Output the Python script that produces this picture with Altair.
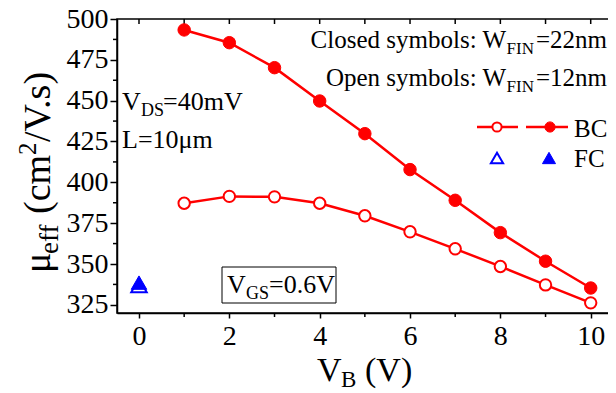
import altair as alt
import pandas as pd

# ---- data ----
vb = [1, 2, 3, 4, 5, 6, 7, 8, 9, 10]
mu_bc_22nm = [493.3, 485.5, 470.2, 449.8, 429.8, 407.8, 389.0, 369.2, 351.7, 335.3]
mu_bc_12nm = [387.2, 391.4, 391.1, 387.2, 379.5, 369.7, 359.3, 348.5, 337.2, 326.2]
fc_vb = [0]
mu_fc_22nm = [338.6]
mu_fc_12nm = [336.8]

x_major = [0, 2, 4, 6, 8, 10]
x_minor = [1, 3, 5, 7, 9]
y_major = [325, 350, 375, 400, 425, 450, 475, 500]
y_minor = [337.5, 362.5, 387.5, 412.5, 437.5, 462.5, 487.5]

XDOM = [-0.487, 10.582]
YDOM = [320, 500]
FONT = "Liberation Serif"
RED = "#ff0000"
BLUE = "#0000ff"
W, H = 500, 294

xs = alt.Scale(domain=XDOM, nice=False, zero=False)
ys = alt.Scale(domain=YDOM, nice=False, zero=False)

bc22 = pd.DataFrame({"vb": vb, "mu": mu_bc_22nm})
bc12 = pd.DataFrame({"vb": vb, "mu": mu_bc_12nm})
fc22 = pd.DataFrame({"vb": fc_vb, "mu": mu_fc_22nm})
fc12 = pd.DataFrame({"vb": fc_vb, "mu": mu_fc_12nm})
one = pd.DataFrame({"a": [0]})

X = lambda: alt.X("vb:Q", scale=xs, axis=None)
Y = lambda: alt.Y("mu:Q", scale=ys, axis=None)

# main axes (labels + outward major ticks)
axes = alt.Chart(bc22).mark_point(opacity=0).encode(
    x=alt.X("vb:Q", scale=xs, axis=alt.Axis(
        values=x_major, orient="bottom", title=None, tickSize=5, tickWidth=1.5,
        tickColor="black", domainColor="black", domainWidth=1.5,
        labelFont=FONT, labelFontSize=28, labelColor="black", labelPadding=4,
        grid=False, labelFlush=False)),
    y=alt.Y("mu:Q", scale=ys, axis=alt.Axis(
        values=y_major, orient="left", title=None, tickSize=7, tickWidth=1.5,
        tickColor="black", domainColor="black", domainWidth=1.5,
        labelFont=FONT, labelFontSize=28, labelColor="black", labelPadding=2,
        grid=False, labelFlush=False)),
)

layers = [axes]

# minor / inward ticks drawn through the scales
def xticks(vals, y0, y1):
    return alt.Chart(pd.DataFrame({"vb": vals})).mark_rule(color="black", strokeWidth=1.5).encode(
        x=X(), y=alt.value(y0), y2=alt.value(y1))

def yticks(vals, x0, x1):
    return alt.Chart(pd.DataFrame({"mu": vals})).mark_rule(color="black", strokeWidth=1.5).encode(
        y=Y(), x=alt.value(x0), x2=alt.value(x1))

layers += [
    xticks(x_minor, H, H + 4),          # bottom minor outward
    xticks(x_major + x_minor, 0, 5),    # top inward
    yticks(y_minor, -4, 0),             # left minor outward
    yticks(y_major, W - 7, W),          # right inward major
    yticks(y_minor, W - 5, W),          # right inward minor
]

# data
layers += [
    alt.Chart(bc12).mark_line(color=RED, strokeWidth=2.5).encode(x=X(), y=Y()),
    alt.Chart(bc22).mark_line(color=RED, strokeWidth=2.5).encode(x=X(), y=Y()),
    alt.Chart(bc12).mark_point(shape="circle", filled=True, fill="white", stroke=RED,
                               strokeWidth=2, size=130, opacity=1).encode(x=X(), y=Y()),
    alt.Chart(bc22).mark_point(shape="circle", filled=True, fill=RED, stroke=RED,
                               strokeWidth=1, size=155, opacity=1).encode(x=X(), y=Y()),
    alt.Chart(fc12).mark_point(shape="triangle-up", filled=True, fill="white", stroke=BLUE,
                               strokeWidth=2, size=240, opacity=1).encode(x=X(), y=Y()),
    alt.Chart(fc22).mark_point(shape="triangle-up", filled=True, fill=BLUE, stroke=BLUE,
                               strokeWidth=1, size=240, opacity=1).encode(x=X(), y=Y()),
]

# text helpers (pixel positions in plot coordinates)
def txt(s, x, y, size=25, align="left", angle=0):
    return alt.Chart(one).mark_text(font=FONT, fontSize=size, align=align,
                                    baseline="alphabetic", angle=angle, color="black").encode(
        x=alt.value(x), y=alt.value(y), text=alt.value(s))

SUB = 17
layers += [
    # top-right annotations (right-aligned chain)
    txt("=22nm", 490, 29, align="right"),
    txt("FIN", 417, 35, size=SUB, align="right"),
    txt("Closed symbols: W", 389, 29, align="right"),
    txt("=12nm", 490, 67, align="right"),
    txt("FIN", 417, 73, size=SUB, align="right"),
    txt("Open symbols: W", 389, 67, align="right"),
    # left annotations
    txt("V", 5, 91, size=26),
    txt("DS", 24, 97, size=SUB + 1),
    txt("=40mV", 46, 91, size=26),
    txt("L=10\u03bcm", 5, 129, size=26),
    # VGS box
    txt("V", 110, 274, size=26),
    txt("GS", 129, 280, size=SUB + 1),
    txt("=0.6V", 152, 274, size=26),
    alt.Chart(one).mark_rect(fill=None, stroke="black", strokeWidth=1).encode(
        x=alt.value(105), x2=alt.value(219), y=alt.value(248), y2=alt.value(284)),
    # legend
    alt.Chart(one).mark_rule(color=RED, strokeWidth=2.5).encode(
        x=alt.value(360), x2=alt.value(401), y=alt.value(108)),
    alt.Chart(one).mark_rule(color=RED, strokeWidth=2.5).encode(
        x=alt.value(409), x2=alt.value(451), y=alt.value(108)),
    alt.Chart(one).mark_point(shape="circle", filled=True, fill="white", stroke=RED,
                              strokeWidth=2, size=85, opacity=1).encode(
        x=alt.value(380), y=alt.value(108)),
    alt.Chart(one).mark_point(shape="circle", filled=True, fill=RED, stroke=RED,
                              strokeWidth=1, size=105, opacity=1).encode(
        x=alt.value(433), y=alt.value(108)),
    alt.Chart(one).mark_point(shape="triangle-up", filled=True, fill="white", stroke=BLUE,
                              strokeWidth=2, size=150, opacity=1).encode(
        x=alt.value(380), y=alt.value(139)),
    alt.Chart(one).mark_point(shape="triangle-up", filled=True, fill=BLUE, stroke=BLUE,
                              strokeWidth=1, size=170, opacity=1).encode(
        x=alt.value(432), y=alt.value(139)),
    txt("BC", 457, 118, size=25),
    txt("FC", 457, 148, size=25),
    # x-axis title
    txt("V", 200, 362, size=34),
    txt("B", 224, 368, size=23),
    txt("(V)", 248, 362, size=34),
    # y-axis title (rotated, reading upward)
    txt("\u03bc", -67, 254, size=38, angle=270),
    txt("eff", -59, 235, size=27, angle=270),
    txt("(cm", -67, 195, size=38, angle=270),
    txt("2", -81, 136, size=25, angle=270),
    txt("/V.s)", -67, 123, size=38, angle=270),
]

chart = alt.layer(*layers).resolve_axis(x="independent", y="independent").properties(
    width=W, height=H,
    autosize=alt.AutoSizeParams(type="none"),
    padding={"left": 109, "top": 11, "right": -9, "bottom": 80},
).configure_view(stroke="black", strokeWidth=1.5)

chart.save("out.html", embed_options={"renderer": "svg", "actions": False})
